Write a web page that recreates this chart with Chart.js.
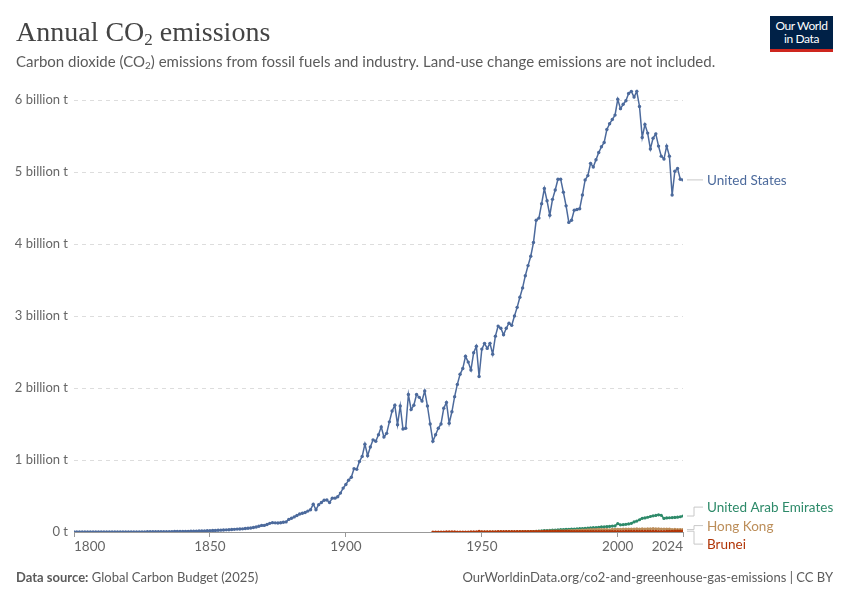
<!DOCTYPE html>
<html>
<head>
<meta charset="utf-8">
<script src="https://cdn.jsdelivr.net/npm/chart.js@4.4.1/dist/chart.umd.min.js"></script>
<style>
  body { margin: 0; width: 850px; height: 600px; position: relative; background: #fff; font-family: Lato, sans-serif; overflow: hidden; }
  #chart { position: absolute; left: 0; top: 0; }
  .title { position: absolute; left: 16px; top: 16px; font-family: "Liberation Serif", serif; font-size: 28px; line-height: 32px; color: #444; white-space: nowrap; }
  .title sub { font-size: 17px; vertical-align: -4px; line-height: 0; }
  .subtitle { position: absolute; left: 16px; top: 51px; font-size: 15px; line-height: 20px; color: #5b5b5b; white-space: nowrap; }
  .subtitle sub { font-size: 10px; vertical-align: -2px; line-height: 0; }
  .logo { position: absolute; left: 770px; top: 16px; width: 63px; height: 30px; background: #002147; border-bottom: 3px solid #ce261e; color: #fff; font-size: 12px; line-height: 13px; text-align: center; padding-top: 3px; letter-spacing: -0.4px; }
  .footer { position: absolute; top: 568px; font-size: 13px; line-height: 18px; color: #5b5b5b; white-space: nowrap; }
  .footer.left { left: 16px; }
  .footer.right { right: 17px; }
</style>
</head>
<body>
<canvas id="chart" width="850" height="600"></canvas>
<div class="title">Annual CO<sub>2</sub> emissions</div>
<div class="subtitle">Carbon dioxide (CO<sub>2</sub>) emissions from fossil fuels and industry. Land-use change emissions are not included.</div>
<div class="logo">Our World<br>in Data</div>
<div class="footer left"><b>Data source:</b> Global Carbon Budget (2025)</div>
<div class="footer right">OurWorldinData.org/co2-and-greenhouse-gas-emissions | CC BY</div>
<script>
// tick labels
const xTicks = [1800, 1850, 1900, 1950, 2000, 2024];
const yTicks = [0, 1, 2, 3, 4, 5, 6];
const yTickLabels = ['0 t', '1 billion t', '2 billion t', '3 billion t', '4 billion t', '5 billion t', '6 billion t'];

// annual emissions, million tonnes, one value per year from the start year
const US_START = 1800;
const usValues = [
  0.25, 0.27, 0.29, 0.31, 0.33, 0.35, 0.38, 0.4, 0.42, 0.45,
  0.5, 0.55, 0.6, 0.65, 0.7, 0.8, 0.9, 1.0, 1.1, 1.2,
  1.3, 1.4, 1.5, 1.7, 1.9, 2.1, 2.3, 2.5, 2.8, 3.0,
  3.3, 3.6, 4.0, 4.4, 4.8, 5.2, 5.7, 6.2, 6.8, 7.3,
  7.9, 8.5, 9.2, 10, 11, 12, 13, 14, 15, 16.5,
  18, 20, 22, 24, 26, 28, 30, 32, 34, 37,
  40, 42, 44, 48, 52, 55, 62, 70, 80, 92,
  92, 105, 120, 130, 127, 125, 128, 135, 140, 175,
  190, 210, 230, 250, 260, 270, 290, 310, 385, 310,
  380, 410, 440, 445, 410, 470, 470, 490, 540, 610,
  660, 720, 760, 880, 870, 980, 1050, 1220, 1060, 1180,
  1280, 1260, 1350, 1460, 1320, 1370, 1530, 1680, 1760, 1490,
  1750, 1430, 1440, 1910, 1700, 1760, 1910, 1870, 1820, 1960,
  1750, 1500, 1260, 1350, 1440, 1500, 1720, 1800, 1510, 1670,
  1880, 2050, 2190, 2270, 2440, 2360, 2250, 2490, 2580, 2160,
  2540, 2620, 2550, 2620, 2470, 2720, 2860, 2830, 2740, 2830,
  2900, 2870, 3000, 3120, 3260, 3390, 3560, 3700, 3830, 4020,
  4330, 4360, 4560, 4770, 4600, 4400, 4620, 4750, 4900, 4900,
  4720, 4530, 4300, 4330, 4470, 4480, 4490, 4680, 4890, 4950,
  5120, 5070, 5170, 5270, 5350, 5410, 5590, 5670, 5730, 5790,
  6010, 5880, 5940, 5990, 6090, 6120, 6040, 6120, 5910, 5480,
  5660, 5540, 5320, 5470, 5530, 5360, 5220, 5180, 5360, 5220,
  4680, 5010, 5050, 4900, 4890
];

const UAE_START = 1959;
const uaeValues = [
  0.01, 0.01, 0.02, 0.03, 0.2, 0.3, 0.5, 0.8, 1.2, 2.5, 5.0,
  10, 14, 17, 20, 21, 22, 25, 28, 30, 33,
  35, 37, 38, 40, 42, 44, 46, 48, 50, 53,
  58, 60, 62, 65, 70, 72, 75, 78, 82, 85,
  115, 100, 102, 106, 112, 120, 140, 152, 170, 190,
  195, 205, 215, 225, 230, 238, 232, 188, 195, 198,
  200, 203, 206, 212, 222
];

const HK_START = 1950;
const hkValues = [
  1.1, 1.2, 1.3, 1.4, 1.5, 1.7, 1.9, 2.1, 2.3, 2.6,
  2.9, 3.2, 3.6, 4.0, 4.5, 5.0, 5.4, 5.6, 6.2, 7.0,
  8.0, 8.8, 9.6, 10.5, 10.2, 10.8, 12.0, 12.8, 14.0, 15.5,
  16.5, 17.2, 18.5, 19.8, 21.0, 22.5, 24.0, 26.0, 28.0, 30.0,
  32.0, 33.5, 35.0, 36.0, 35.0, 34.0, 33.0, 31.5, 36.0, 37.5,
  38.5, 38.0, 39.5, 41.0, 40.0, 42.0, 41.0, 43.0, 42.0, 44.0,
  41.0, 44.0, 44.5, 46.0, 45.0, 43.0, 41.0, 40.0, 40.5, 42.0,
  34.0, 36.0, 35.0, 34.0, 33.5
];

const BRN_START = 1932;
const bruneiValues = [
  0.1, 0.15, 0.2, 0.25, 0.3, 0.35, 0.4, 0.4,
  0.35, 0.3, 0.2, 0.15, 0.1, 0.2, 0.6, 1.5, 2.5, 8.0,
  3.0, 3.2, 3.4, 3.5, 3.6, 3.8, 4.0, 4.2, 4.0, 4.1,
  4.2, 4.3, 4.4, 4.5, 4.6, 4.8, 5.0, 5.2, 5.4, 5.6,
  6.0, 6.5, 7.0, 7.5, 7.8, 8.0, 8.2, 8.5, 8.8, 9.0,
  8.5, 8.0, 7.5, 7.0, 6.8, 6.5, 6.0, 5.8, 5.6, 5.5,
  5.4, 5.3, 5.5, 5.6, 5.8, 6.0, 6.2, 6.3, 6.5, 6.6,
  6.8, 7.0, 7.2, 7.3, 7.5, 7.6, 7.8, 8.0, 8.2, 8.0,
  8.1, 8.3, 8.5, 7.8, 7.5, 7.0, 6.8, 7.0, 7.5, 9.0,
  10.5, 11.0, 10.8, 11.2, 11.0
];

// million tonnes -> billion tonnes, x = year
function toPoints(values, start) {
  return values.map((v, i) => ({ x: start + i, y: v / 1000 }));
}

function series(label, values, start, color, order, radius) {
  return {
    label: label,
    data: toPoints(values, start),
    borderColor: color,
    backgroundColor: color,
    borderWidth: 1.5,
    pointRadius: radius,
    pointBorderWidth: 0,
    pointBackgroundColor: color,
    order: order
  };
}

const datasets = [
  series('United States', usValues, US_START, '#4c6a9c', 0, 1.7),
  series('United Arab Emirates', uaeValues, UAE_START, '#2d8a69', 3, 1.6),
  series('Hong Kong', hkValues, HK_START, '#bc8e5a', 2, 1.6),
  series('Brunei', bruneiValues, BRN_START, '#b13507', 1, 1.6)
];

// labels at the right end of each line, with connector lines
const endLabels = {
  id: 'endLabels',
  afterDraw(chart) {
    const ctx = chart.ctx;
    const yScale = chart.scales.y;
    const right = chart.chartArea.right;
    const items = chart.data.datasets.map(ds => {
      const last = ds.data[ds.data.length - 1];
      return { text: ds.label, color: ds.borderColor, endY: yScale.getPixelForValue(last.y) };
    });
    items.sort((a, b) => a.endY - b.endY);
    // lay out labels with a minimum gap, groups centred on their line ends
    const gap = 18.5;
    let groups = items.map(it => ({ members: [it], mean: it.endY }));
    let merged = true;
    while (merged) {
      merged = false;
      for (let i = 0; i < groups.length - 1; i++) {
        const a = groups[i], b = groups[i + 1];
        const aBottom = a.mean + (a.members.length - 1) * gap / 2;
        const bTop = b.mean - (b.members.length - 1) * gap / 2;
        if (bTop - aBottom < gap) {
          const members = a.members.concat(b.members);
          const mean = members.reduce((s, m) => s + m.endY, 0) / members.length;
          groups.splice(i, 2, { members, mean });
          merged = true;
          break;
        }
      }
    }
    groups.forEach(g => {
      g.members.forEach((m, i) => {
        m.labelY = g.mean + (i - (g.members.length - 1) / 2) * gap;
      });
    });

    ctx.save();
    ctx.font = '13.5px Lato';
    ctx.textBaseline = 'middle';
    ctx.textAlign = 'left';
    items.forEach(it => {
      const x0 = right + 4, xMid = right + 11, x1 = right + 20;
      ctx.strokeStyle = '#c8c8c8';
      ctx.lineWidth = 1;
      ctx.beginPath();
      ctx.moveTo(x0, it.endY);
      ctx.lineTo(xMid, it.endY);
      ctx.lineTo(xMid, it.labelY);
      ctx.lineTo(x1, it.labelY);
      ctx.stroke();
      ctx.fillStyle = it.color;
      ctx.fillText(it.text, right + 24, it.labelY + 1);
    });
    ctx.restore();
  }
};

new Chart(document.getElementById('chart'), {
  type: 'line',
  data: { datasets: datasets },
  options: {
    responsive: false,
    animation: false,
    layout: { padding: { left: 12, top: 88, right: 167, bottom: 0 } },
    plugins: { legend: { display: false }, tooltip: { enabled: false } },
    scales: {
      x: {
        type: 'linear',
        min: 1800,
        max: 2024,
        afterBuildTicks: s => { s.ticks = xTicks.map(v => ({ value: v })); },
        afterFit: s => { s.height = 68; },
        ticks: {
          align: 'inner',
          autoSkip: false,
          maxRotation: 0,
          padding: 2,
          color: '#666',
          font: { family: 'Lato', size: 13.5 },
          callback: v => String(v)
        },
        grid: { drawOnChartArea: false, drawTicks: true, tickLength: 5, color: '#999' },
        border: { display: true, color: '#999', width: 1 }
      },
      y: {
        min: 0,
        max: 6 + 12 / 72,
        afterBuildTicks: s => { s.ticks = yTicks.map(v => ({ value: v })); },
        afterFit: s => { s.width = 62; },
        ticks: {
          padding: 6,
          color: '#666',
          font: { family: 'Lato', size: 13 },
          callback: (v, i) => yTickLabels[i]
        },
        grid: {
          drawTicks: false,
          color: c => (c.tick && c.tick.value === 0) ? 'rgba(0,0,0,0)' : '#dddddd'
        },
        border: { display: false, dash: [4, 4] }
      }
    }
  },
  plugins: [endLabels]
});
</script>
</body>
</html>
